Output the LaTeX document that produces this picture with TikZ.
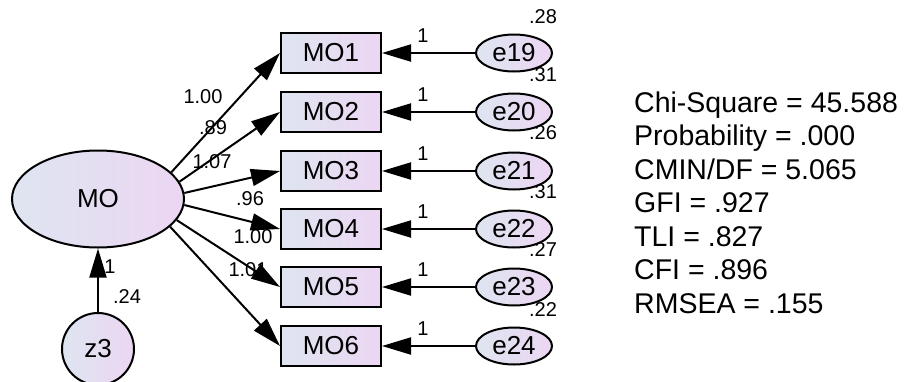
\documentclass[tikz,border=0pt]{standalone}
\usepackage{fontspec}
\setmainfont{Liberation Sans}
\usetikzlibrary{arrows.meta,shapes.geometric}
\definecolor{shl}{RGB}{222,229,240}
\definecolor{shr}{RGB}{236,214,243}
\tikzset{
  obs/.style={draw, line width=2pt, rectangle, minimum width=100pt, minimum height=40pt, left color=shl, right color=shr, font=\fontsize{26}{26}\selectfont, inner sep=0pt},
  lat/.style={draw, line width=2pt, ellipse, minimum width=172pt, minimum height=97pt, left color=shl, right color=shr, font=\fontsize{26}{26}\selectfont, inner sep=0pt},
  errl/.style={draw, line width=2pt, ellipse, minimum width=76pt, minimum height=37pt, left color=shl, right color=shr, font=\fontsize{26}{26}\selectfont, inner sep=0pt},
  dist/.style={draw, line width=2pt, circle, minimum size=72pt, left color=shl, right color=shr, font=\fontsize{26}{26}\selectfont, inner sep=0pt},
  arr/.style={line width=2pt, -{Triangle[length=29pt,width=17pt]}},
  lbl/.style={font=\fontsize{20}{20}\selectfont, inner sep=0pt},
  stat/.style={font=\fontsize{28.5}{28.5}\selectfont, inner sep=0pt, anchor=base west}
}
\begin{document}
\begin{tikzpicture}[x=1pt,y=-1pt]
\useasboundingbox[fill=white] (0,0) rectangle (906,381);
\node[lat] (MO) at (98,199) {MO};
\node[dist] (z3) at (98,349) {z3};
\foreach \i/\y in {1/53,2/112,3/171,4/229,5/287,6/346}{
  \node[obs] (MO\i) at (331,\y) {MO\i};
}
\foreach \i/\e/\y in {1/19/53,2/20/112,3/21/171,4/22/229,5/23/287,6/24/346}{
  \node[errl] (e\e) at (514,\y) {e\e};
  \draw[arr] (e\e) -- (MO\i);
  \node[lbl] at (423,\y-17) {1};
}
\node[lbl] at (543,17) {.28};
\node[lbl] at (543,75) {.31};
\node[lbl] at (543,133) {.26};
\node[lbl] at (543,192) {.31};
\node[lbl] at (543,250) {.27};
\node[lbl] at (543,310) {.22};
\draw[arr] (z3) -- (MO);
\node[lbl] at (110,267) {1};
\node[lbl] at (127,297) {.24};
\draw[arr] (MO.20) -- (MO1.west);
\draw[arr] (MO.12) -- (MO2.west);
\draw[arr] (MO.4) -- (MO3.west);
\draw[arr] (MO.-4) -- (MO4.west);
\draw[arr] (MO.-15) -- (MO5.west);
\draw[arr] (MO.-21) -- (MO6.west);
\node[lbl] at (203,97) {1.00};
\node[lbl] at (213,128) {.89};
\node[lbl] at (212,162) {1.07};
\node[lbl] at (250,199) {.96};
\node[lbl] at (253,237) {1.00};
\node[lbl] at (248,270) {1.01};
\foreach \t [count=\k from 0] in {Chi-Square = 45.588,Probability = .000,CMIN/DF = 5.065,GFI = .927,TLI = .827,CFI = .896,RMSEA = .155}{
  \node[stat] (s\k) at (634,112+33.5*\k) {\t};
}
\end{tikzpicture}
\end{document}
